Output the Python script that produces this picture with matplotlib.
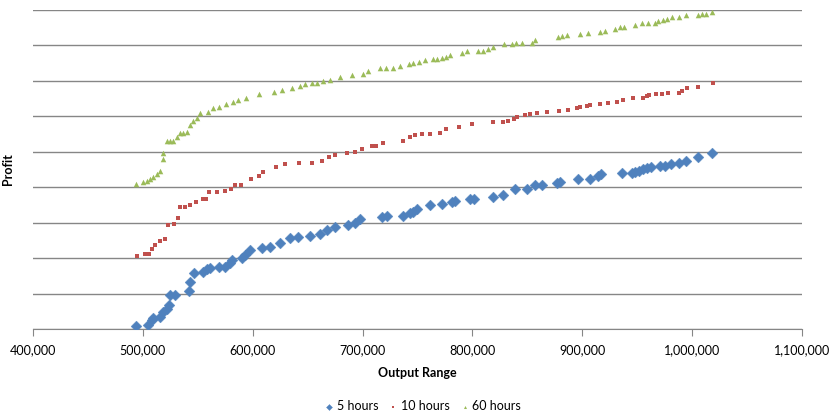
import matplotlib.pyplot as plt
from matplotlib.ticker import FuncFormatter, MultipleLocator

# 5 hours
x5 = [493500, 505000, 508000, 509500, 515600, 518600, 521700, 524100, 524700, 529200,
      542300, 542900, 546500, 554400, 558100, 561100, 569600, 574800, 579300, 580800,
      590000, 593000, 597500, 608200, 615700, 624800, 633900, 641500, 652100, 661200,
      667300, 674900, 687000, 693100, 697600, 717400, 721900, 737100, 743200, 746200,
      749800, 761400, 772000, 781100, 784100, 797800, 801400, 819000, 828100, 838700,
      849400, 856900, 863000, 876700, 879700, 896400, 907000, 914600, 916800, 935800,
      944900, 948000, 951900, 955500, 958600, 962200, 970700, 975300, 980400, 988000,
      994400, 1005600, 1018400]
y5 = [0.08, 0.11, 0.25, 0.30, 0.35, 0.49, 0.56, 0.68, 0.96, 0.96,
      1.08, 1.33, 1.59, 1.62, 1.68, 1.72, 1.76, 1.76, 1.85, 1.95,
      2.00, 2.09, 2.23, 2.28, 2.31, 2.44, 2.56, 2.59, 2.62, 2.68,
      2.79, 2.89, 2.93, 3.00, 3.10, 3.17, 3.18, 3.19, 3.28, 3.29,
      3.38, 3.50, 3.53, 3.59, 3.60, 3.66, 3.67, 3.72, 3.78, 3.94,
      3.94, 4.06, 4.07, 4.11, 4.16, 4.22, 4.23, 4.33, 4.37, 4.41,
      4.40, 4.44, 4.47, 4.51, 4.53, 4.58, 4.61, 4.61, 4.66, 4.67,
      4.75, 4.84, 4.96]

# 10 hours
x10 = [494400, 502000, 505900, 508000, 511000, 515600, 520200, 523200, 528400, 532300,
       533800, 538400, 542900, 548400, 554500, 557500, 560500, 567200, 574800, 580000,
       583900, 589100, 598200, 606000, 609700, 620900, 629400, 642400, 653700, 662800,
       669700, 674900, 686100, 693100, 699100, 708300, 712200, 718300, 737100, 743200,
       747700, 753800, 761400, 770500, 776000, 788100, 799300, 819000, 827500, 832600,
       837800, 840300, 847800, 852400, 858500, 867600, 879100, 887300, 894900, 897900,
       904000, 907000, 916100, 923700, 931300, 936800, 946400, 955000, 958600, 961000,
       967100, 972300, 978300, 988300, 990500, 995000, 1005600, 1018700]
y10 = [2.06, 2.12, 2.12, 2.25, 2.37, 2.49, 2.55, 2.93, 2.96, 3.12,
       3.45, 3.45, 3.50, 3.59, 3.66, 3.67, 3.86, 3.87, 3.90, 3.95,
       4.06, 4.06, 4.22, 4.33, 4.44, 4.58, 4.66, 4.69, 4.69, 4.75,
       4.86, 4.91, 4.96, 5.00, 5.08, 5.17, 5.17, 5.24, 5.29, 5.43,
       5.47, 5.50, 5.50, 5.52, 5.63, 5.71, 5.77, 5.83, 5.83, 5.87,
       5.92, 5.99, 6.04, 6.06, 6.10, 6.13, 6.16, 6.18, 6.23, 6.26,
       6.29, 6.32, 6.35, 6.39, 6.41, 6.46, 6.51, 6.53, 6.57, 6.60,
       6.63, 6.63, 6.65, 6.67, 6.72, 6.79, 6.84, 6.95]

# 60 hours
x60 = [493500, 500400, 504100, 506500, 509500, 512600, 515600, 518000, 518600, 521700,
       524700, 527700, 530800, 533800, 536800, 539900, 542900, 545900, 549000, 552000,
       559600, 564100, 569600, 575700, 582300, 586900, 593900, 606000, 619400, 626400,
       635500, 643000, 647600, 653700, 658200, 664200, 670300, 679400, 690100, 700700,
       705200, 715900, 721300, 727400, 734100, 742600, 746200, 751700, 756800, 763800,
       768000, 772000, 775900, 779600, 790200, 794800, 805400, 809900, 814500, 818400,
       828700, 835700, 839600, 844800, 853900, 856900, 878200, 881200, 885800, 897900,
       905500, 916100, 920700, 929800, 934300, 937900, 948000, 954100, 960100, 966200,
       969200, 973200, 976800, 981400, 988300, 994400, 1005600, 1008600, 1012600, 1017800]
y60 = [4.08, 4.14, 4.18, 4.23, 4.30, 4.37, 4.46, 4.79, 4.96, 5.29,
       5.29, 5.31, 5.43, 5.52, 5.54, 5.57, 5.76, 5.88, 5.95, 6.09,
       6.13, 6.23, 6.27, 6.35, 6.41, 6.46, 6.53, 6.63, 6.70, 6.74,
       6.79, 6.86, 6.90, 6.95, 6.95, 7.01, 7.03, 7.10, 7.17, 7.20,
       7.28, 7.36, 7.36, 7.36, 7.42, 7.48, 7.50, 7.52, 7.59, 7.61,
       7.61, 7.64, 7.67, 7.73, 7.80, 7.83, 7.84, 7.84, 7.89, 7.95,
       8.04, 8.04, 8.06, 8.08, 8.08, 8.15, 8.23, 8.27, 8.30, 8.32,
       8.36, 8.39, 8.42, 8.46, 8.51, 8.53, 8.58, 8.63, 8.64, 8.64,
       8.70, 8.72, 8.74, 8.79, 8.79, 8.86, 8.86, 8.89, 8.89, 8.95]

series_names = ['5 hours', '10 hours', '60 hours']

plt.rcParams['font.family'] = ['Lato', 'DejaVu Sans']

fig = plt.figure(figsize=(8.35, 4.19), dpi=100)
ax = fig.add_axes([33 / 835, 90 / 419, 769 / 835, 319 / 419])

ax.scatter(x5, y5, marker='D', s=30, color='#4F81BD', edgecolors='#4F81BD',
           linewidths=0.3, label=series_names[0], zorder=3)
ax.scatter(x10, y10, marker='s', s=11, color='#C0504D', linewidths=0,
           label=series_names[1], zorder=3)
ax.scatter(x60, y60, marker='^', s=16, color='#9BBB59', linewidths=0,
           label=series_names[2], zorder=3)

ax.set_xlim(400000, 1100000)
ax.set_ylim(0, 9)
ax.xaxis.set_major_locator(MultipleLocator(100000))
ax.xaxis.set_major_formatter(FuncFormatter(lambda v, p: f'{int(v):,}'))
ax.yaxis.set_major_locator(MultipleLocator(1))
ax.set_yticklabels([])
ax.tick_params(axis='y', length=0)
ax.tick_params(axis='x', length=5, color='#868686', labelsize=9, pad=6)

ax.grid(axis='y', color='#868686', linewidth=1)
ax.set_axisbelow(True)
for side in ['top', 'right', 'left']:
    ax.spines[side].set_visible(False)
ax.spines['bottom'].set_color('#868686')

ax.set_xlabel('Output Range', fontsize=9, fontweight='bold', labelpad=8)
ax.set_ylabel('Profit', fontsize=9, fontweight='bold', labelpad=10)

fig.legend(loc='lower center', bbox_to_anchor=(0.507, -0.01), ncol=3, frameon=False,
           fontsize=9, markerscale=0.55, handlelength=0.6, handletextpad=0.3,
           columnspacing=0.9)

fig.savefig('out.png', dpi=100)
